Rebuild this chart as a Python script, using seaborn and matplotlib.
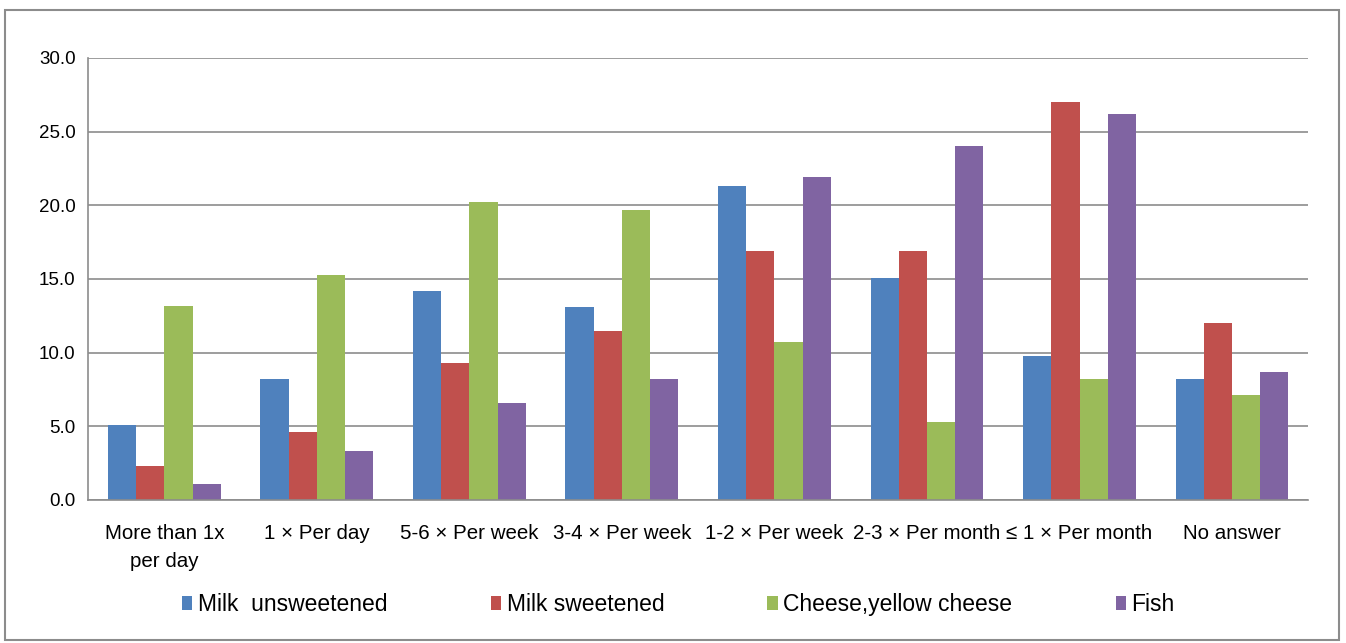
import numpy as np
import pandas as pd
import matplotlib
matplotlib.use("Agg")
import matplotlib.pyplot as plt
import seaborn as sns
from matplotlib.patches import Rectangle, Patch

# Data
categories = ["More than 1x\nper day", "1 × Per day", "5-6 × Per week", "3-4 × Per week",
              "1-2 × Per week", "2-3 × Per month", "≤ 1 × Per month", "No answer"]
series = ["Milk  unsweetened", "Milk sweetened", "Cheese,yellow cheese", "Fish"]
milk_unsweetened = [5.1, 8.2, 14.2, 13.1, 21.3, 15.1, 9.8, 8.2]
milk_sweetened = [2.3, 4.6, 9.3, 11.5, 16.9, 16.9, 27.0, 12.0]
cheese = [13.2, 15.3, 20.2, 19.7, 10.7, 5.3, 8.2, 7.1]
fish = [1.1, 3.3, 6.6, 8.2, 21.9, 24.0, 26.2, 8.7]
colors = ["#4F81BD", "#C0504D", "#9BBB59", "#8064A2"]

rows = []
for name, vals in zip(series, [milk_unsweetened, milk_sweetened, cheese, fish]):
    for cat, v in zip(categories, vals):
        rows.append({"category": cat, "series": name, "value": v})
df = pd.DataFrame(rows)

sns.set_style("white")
plt.rcParams['font.family'] = ['Liberation Sans', 'DejaVu Sans']
plt.rcParams['text.color'] = 'black'
plt.rcParams['xtick.color'] = 'black'
plt.rcParams['ytick.color'] = 'black'

fig = plt.figure(figsize=(13.46, 6.43), dpi=100)
ax = fig.add_axes([0.0654, 0.2224, 0.9066, 0.6874])

sns.barplot(data=df, x="category", y="value", hue="series", order=categories,
            hue_order=series, palette=colors, width=0.74, gap=0, ax=ax,
            legend=False, saturation=1, linewidth=0)

ax.set_ylim(0, 30)
ax.set_xlim(-0.5, len(categories) - 0.5)
ax.set_yticks(np.arange(0, 30.1, 5))
ax.set_yticklabels([f"{v:.1f}" for v in np.arange(0, 30.1, 5)], fontsize=13.5)
ax.yaxis.grid(True, color="#8c8c8c", linewidth=1.2)
ax.set_axisbelow(True)
ax.set_xlabel("")
ax.set_ylabel("")

for s in ["top", "right"]:
    ax.spines[s].set_visible(False)
for s in ["left", "bottom"]:
    ax.spines[s].set_color("#8c8c8c")
    ax.spines[s].set_linewidth(1.2)

ax.tick_params(axis="y", which="major", length=5, color="#8c8c8c", pad=4)
ax.set_xticks(range(len(categories)))
ax.set_xticklabels(categories, fontsize=14.8, linespacing=1.6)
ax.tick_params(axis="x", which="major", length=0, pad=17)
ax.set_xticks(np.arange(-0.5, len(categories), 1), minor=True)
ax.tick_params(axis="x", which="minor", length=6, color="#8c8c8c", width=1.2)

handles = [Patch(facecolor=c, edgecolor="none") for c in colors]
fig.legend(handles, series, loc="center", bbox_to_anchor=(0.504, 0.06), ncol=4,
           frameon=False, fontsize=16.5, handlelength=0.45, handleheight=0.6,
           handletextpad=0.25, columnspacing=4.5)

fig.patches.append(Rectangle((0.004, 0.005), 0.991, 0.98, transform=fig.transFigure,
                             fill=False, edgecolor="#8c8c8c", linewidth=1.5))

fig.savefig("out.png", dpi=100)
